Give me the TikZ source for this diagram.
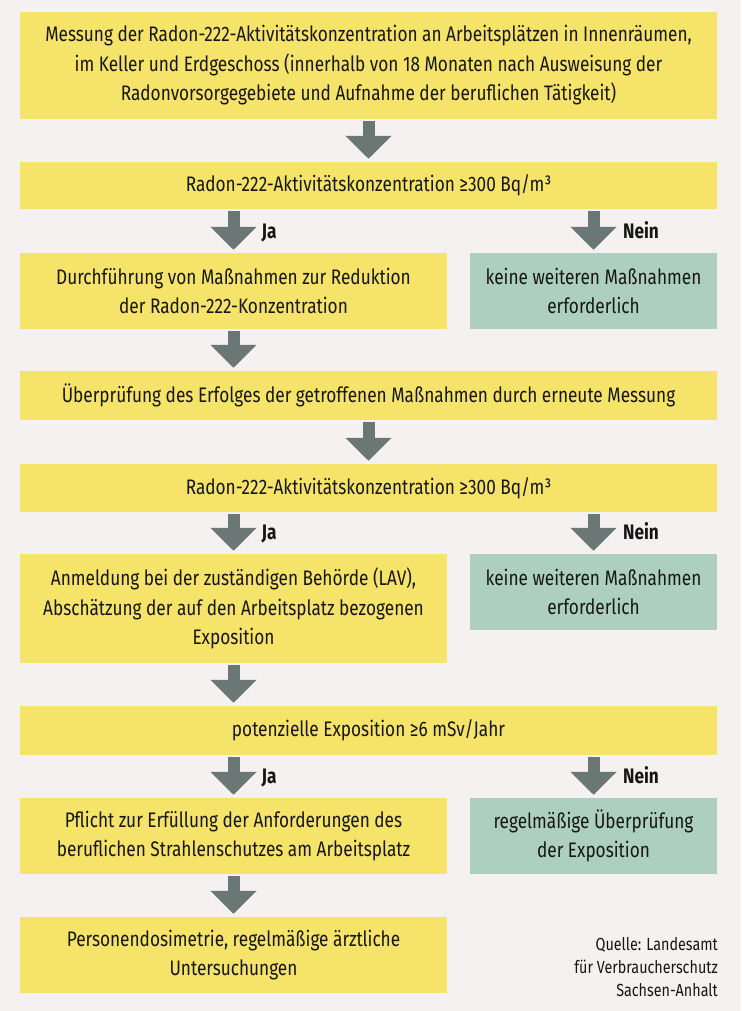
\documentclass[tikz,border=0pt]{standalone}
\usepackage{fontspec}
\setmainfont{Fira Sans}[FakeStretch=0.82]
\usetikzlibrary{arrows.meta,calc}
\definecolor{bg}{RGB}{244,241,240}
\definecolor{ylw}{RGB}{245,227,106}
\definecolor{grn}{RGB}{173,207,192}
\definecolor{arr}{RGB}{106,119,117}
\definecolor{txt}{RGB}{22,22,22}
\begin{document}
\begin{tikzpicture}[x=1pt,y=-1pt,
  box/.style={fill=ylw, draw=none, inner sep=0pt, align=center, text=txt,
    font=\fontsize{21}{29.5}\selectfont},
  gbox/.style={box, fill=grn},
  full/.style={minimum width=697pt},
  lcol/.style={minimum width=427pt},
  rcol/.style={minimum width=247pt},
  fat/.style={draw=arr, line width=12pt, -{Triangle[width=45pt,length=23pt]},
    shorten <=2pt, shorten >=3pt},
  lbl/.style={inner sep=0pt, anchor=base west, text=txt, font=\fontsize{21}{22}\selectfont\bfseries},
  srcstyle/.style={inner sep=0pt, align=right, anchor=east, text=txt,
    font=\fontsize{17.5}{23}\selectfont}]
\fill[bg] (0,0) rectangle (741,1011);
\useasboundingbox (0,0) rectangle (741,1011);

\node[box, full, minimum height=107pt] (b1) at (368.5,65.5)
  {Messung der Radon-222-Aktivitätskonzentration an Arbeitsplätzen in Innenräumen,\\
   im Keller und Erdgeschoss (innerhalb von 18 Monaten nach Ausweisung der\\
   Radonvorsorgegebiete und Aufnahme der beruflichen Tätigkeit)};
\node[box, full, minimum height=47pt] (b2) at (368.5,185.5)
  {Radon-222-Aktivitätskonzentration ≥300 Bq/m³};
\node[box, lcol, minimum height=76pt] (b3l) at (233.5,291)
  {Durchführung von Maßnahmen zur Reduktion\\ der Radon-222-Konzentration};
\node[gbox, rcol, minimum height=76pt] (b3r) at (593.5,291)
  {keine weiteren Maßnahmen\\ erforderlich};
\node[box, full, minimum height=49pt] (b4) at (368.5,395.5)
  {Überprüfung des Erfolges der getroffenen Maßnahmen durch erneute Messung};
\node[box, full, minimum height=48pt] (b5) at (368.5,488)
  {Radon-222-Aktivitätskonzentration ≥300 Bq/m³};
\node[box, lcol, minimum height=109pt] (b6l) at (233.5,608.5)
  {Anmeldung bei der zuständigen Behörde (LAV),\\ Abschätzung der auf den Arbeitsplatz bezogenen\\ Exposition};
\node[gbox, rcol, minimum height=76pt] (b6r) at (593.5,592)
  {keine weiteren Maßnahmen\\ erforderlich};
\node[box, full, minimum height=49pt] (b7) at (368.5,730.5)
  {potenzielle Exposition ≥6 mSv/Jahr};
\node[box, lcol, minimum height=76pt] (b8l) at (233.5,836)
  {Pflicht zur Erfüllung der Anforderungen des\\ beruflichen Strahlenschutzes am Arbeitsplatz};
\node[gbox, rcol, minimum height=76pt] (b8r) at (593.5,836)
  {regelmäßige Überprüfung\\ der Exposition};
\node[box, lcol, minimum height=76pt] (b9) at (233.5,955)
  {Personendosimetrie, regelmäßige ärztliche\\ Untersuchungen};
\node[srcstyle] (src) at (718,967)
  {Quelle: Landesamt\\ für Verbraucherschutz\\ Sachsen-Anhalt};

\draw[fat] (b1.south) -- (b2.north);
\draw[fat] (b3l.north |- b2.south) -- (b3l.north);
\draw[fat] (b3r.north |- b2.south) -- (b3r.north);
\draw[fat] (b3l.south) -- (b3l.south |- b4.north);
\draw[fat] (b4.south) -- (b5.north);
\draw[fat] (b6l.north |- b5.south) -- (b6l.north);
\draw[fat] (b6r.north |- b5.south) -- (b6r.north);
\draw[fat] (b6l.south) -- (b6l.south |- b7.north);
\draw[fat] (b8l.north |- b7.south) -- (b8l.north);
\draw[fat] (b8r.north |- b7.south) -- (b8r.north);
\draw[fat] (b8l.south) -- (b9.north);

\node[lbl] (ja1) at ($(b3l.north)+(28,-14)$) {Ja};
\node[lbl] (nein1) at ($(b3r.north)+(29.5,-14)$) {Nein};
\node[lbl] (ja2) at ($(b6l.north)+(28,-14)$) {Ja};
\node[lbl] (nein2) at ($(b6r.north)+(29.5,-14)$) {Nein};
\node[lbl] (ja3) at ($(b8l.north)+(28,-14)$) {Ja};
\node[lbl] (nein3) at ($(b8r.north)+(29.5,-14)$) {Nein};
\end{tikzpicture}
\end{document}
